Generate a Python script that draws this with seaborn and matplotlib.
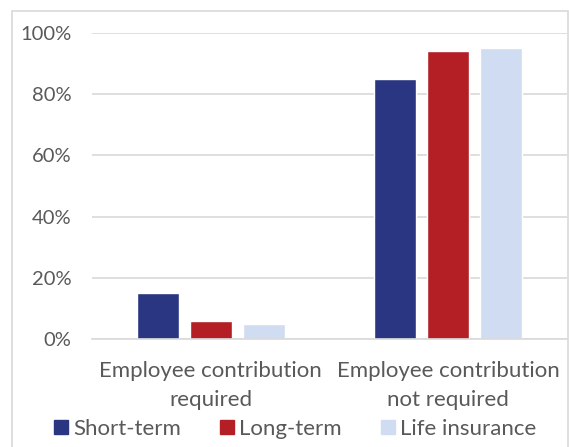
import matplotlib
matplotlib.use("Agg")
import matplotlib.pyplot as plt
import matplotlib.patches as mpatches
from matplotlib.ticker import PercentFormatter
import seaborn as sns
import pandas as pd

categories = ["Employee contribution\nrequired", "Employee contribution\nnot required"]
series = ["Short-term", "Long-term", "Life insurance"]
short_term = [15, 85]
long_term = [6, 94]
life_insurance = [5, 95]
colors = ["#2A3681", "#B31F24", "#CFDCF2"]

rows = []
for s, vals in zip(series, [short_term, long_term, life_insurance]):
    for c, v in zip(categories, vals):
        rows.append({"category": c, "series": s, "value": v})
df = pd.DataFrame(rows)

sns.set_style("white")
plt.rcParams["font.family"] = ["Lato", "DejaVu Sans"]
text_color = "#595959"

W, H = 569, 447
fig = plt.figure(figsize=(W / 100, H / 100), dpi=100)
ax = fig.add_axes([92 / W, (H - 339) / H, 475 / W, 306 / H])

sns.barplot(data=df, x="category", y="value", hue="series", hue_order=series,
            palette=colors, width=0.668, gap=0.21, ax=ax, saturation=1,
            legend=False)

ax.set_ylim(0, 100)
ax.set_xlim(-0.5, 1.5)
ax.set_yticks([0, 20, 40, 60, 80, 100])
ax.yaxis.set_major_formatter(PercentFormatter(decimals=0))
ax.yaxis.grid(True, color="#D9D9D9", linewidth=1.2)
ax.set_axisbelow(True)
for sp in ["top", "right", "left"]:
    ax.spines[sp].set_visible(False)
ax.spines["bottom"].set_color("#D9D9D9")
ax.spines["bottom"].set_linewidth(1.2)
ax.set_xlabel("")
ax.set_ylabel("")
ax.tick_params(axis="y", length=0, labelsize=14.5, labelcolor=text_color, pad=15)
ax.tick_params(axis="x", length=0, labelsize=16, labelcolor=text_color, pad=15.5)
for lbl in ax.get_xticklabels():
    lbl.set_linespacing(1.62)

handles = [mpatches.Patch(color=c, label=s) for c, s in zip(colors, series)]
leg = fig.legend(handles=handles, loc="center", bbox_to_anchor=(0.519, (H - 429) / H),
                 ncol=3, frameon=False, fontsize=16, handlelength=0.63, handleheight=0.63,
                 handletextpad=0.23, columnspacing=1.76, labelcolor=text_color,
                 borderpad=0, borderaxespad=0)

border = mpatches.Rectangle((12 / W, -0.01), (568 - 12) / W, (H - 11) / H + 0.01,
                            transform=fig.transFigure, fill=False,
                            edgecolor="#D9D9D9", linewidth=1.2)
fig.patches.append(border)

fig.savefig("out.png", dpi=100)
